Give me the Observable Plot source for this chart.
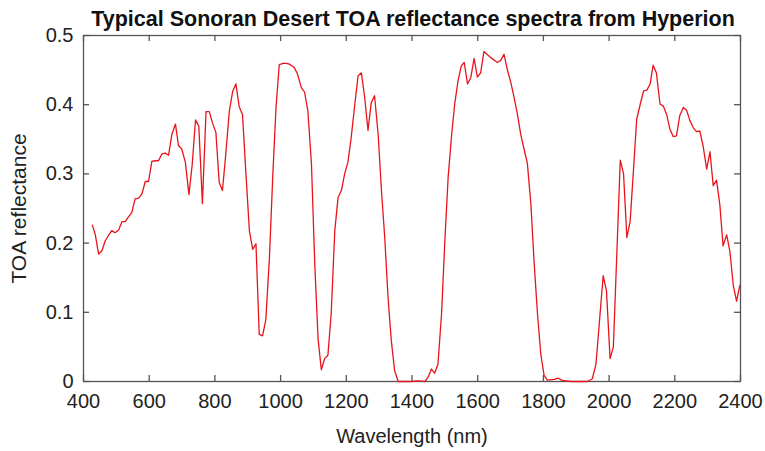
<!DOCTYPE html>
<html>
<head>
<meta charset="utf-8">
<script src="https://cdn.jsdelivr.net/npm/d3@7"></script>
<script src="https://cdn.jsdelivr.net/npm/@observablehq/plot@0.6"></script>
<style>
  html, body { margin: 0; padding: 0; background: #fff; }
  svg { display: block; }
</style>
</head>
<body>
<div id="chart"></div>
<script>
const wavelength = [
  427, 436, 446, 456, 466, 476, 486, 496, 507, 517, 527, 537, 547, 557, 568, 578, 588, 598,
  608, 618, 628, 639, 649, 659, 669, 680, 689, 699, 710, 721, 731, 741, 751, 762, 773, 783,
  793, 803, 813, 823, 833, 844, 854, 864, 874, 884, 894, 905, 915, 925, 935, 945, 955, 966,
  976, 986, 996, 1010, 1025, 1041, 1051, 1063, 1073, 1083, 1094, 1104, 1114, 1124, 1134, 1144,
  1154, 1165, 1175, 1185, 1195, 1205, 1215, 1226, 1236, 1246, 1256, 1266, 1276, 1286, 1297,
  1307, 1317, 1327, 1337, 1347, 1358, 1378, 1398, 1418, 1439, 1449, 1459, 1469, 1479, 1490,
  1500, 1510, 1520, 1530, 1540, 1550, 1559, 1569, 1579, 1589, 1599, 1609, 1619, 1640, 1660,
  1670, 1680, 1691, 1701, 1711, 1721, 1731, 1741, 1751, 1762, 1772, 1782, 1792, 1802, 1812,
  1833, 1845, 1855, 1868, 1883, 1914, 1934, 1949, 1960, 1970, 1982, 1992, 2003, 2013, 2024,
  2034, 2044, 2054, 2064, 2074, 2084, 2095, 2105, 2115, 2125, 2134, 2144, 2155, 2165, 2175,
  2185, 2195, 2205, 2215, 2226, 2236, 2246, 2256, 2266, 2276, 2286, 2297, 2307, 2317, 2327,
  2337, 2347, 2358, 2368, 2378, 2388, 2398
];
const reflectance = [
  0.226, 0.212, 0.184, 0.189, 0.203, 0.211, 0.218, 0.215, 0.219, 0.231, 0.231, 0.238, 0.244, 0.264, 0.265, 0.271, 0.289, 0.289,
  0.318, 0.319, 0.319, 0.329, 0.330, 0.327, 0.357, 0.372, 0.341, 0.336, 0.317, 0.270, 0.314, 0.378, 0.369, 0.257, 0.390, 0.390,
  0.373, 0.360, 0.288, 0.276, 0.328, 0.391, 0.419, 0.430, 0.397, 0.386, 0.304, 0.218, 0.191, 0.199, 0.068, 0.066, 0.089, 0.179,
  0.295, 0.396, 0.458, 0.460, 0.459, 0.454, 0.445, 0.425, 0.418, 0.391, 0.314, 0.170, 0.062, 0.017, 0.033, 0.038,
  0.098, 0.218, 0.266, 0.276, 0.300, 0.317, 0.353, 0.401, 0.442, 0.446, 0.410, 0.363, 0.403, 0.413, 0.357,
  0.276, 0.208, 0.122, 0.059, 0.016, 0.000, 0.000, 0.000, 0.001, 0.000, 0.006, 0.018, 0.012, 0.025, 0.098,
  0.203, 0.295, 0.353, 0.401, 0.434, 0.456, 0.461, 0.430, 0.439, 0.467, 0.440, 0.446, 0.477, 0.468, 0.461,
  0.464, 0.473, 0.449, 0.432, 0.410, 0.386, 0.357, 0.336, 0.316, 0.256, 0.170, 0.098, 0.040, 0.009, 0.002,
  0.003, 0.005, 0.002, 0.001, 0.000, 0.000, 0.000, 0.004, 0.025, 0.083, 0.153, 0.131, 0.033, 0.050, 0.191,
  0.320, 0.300, 0.208, 0.231, 0.304, 0.379, 0.401, 0.420, 0.421, 0.430, 0.457, 0.446, 0.401, 0.398, 0.386,
  0.365, 0.354, 0.355, 0.384, 0.396, 0.392, 0.377, 0.367, 0.361, 0.362, 0.341, 0.307, 0.332, 0.283, 0.291,
  0.256, 0.196, 0.212, 0.187, 0.139, 0.116, 0.139
];
const xTicks = [400, 600, 800, 1000, 1200, 1400, 1600, 1800, 2000, 2200, 2400];
const yTicks = [0, 0.1, 0.2, 0.3, 0.4, 0.5];
const yTickLabels = ["0", "0.1", "0.2", "0.3", "0.4", "0.5"];

const data = wavelength.map((w, i) => ({w, r: reflectance[i]}));

const W = 765, H = 451;
const mL = 83, mR = 25, mT = 35, mB = 70;
const pw = W - mL - mR, ph = H - mT - mB;
const tl = 6;
const axisColor = "#555";
const font = "Liberation Sans, Arial, Helvetica, sans-serif";

const chart = Plot.plot({
  width: W,
  height: H,
  marginLeft: mL,
  marginRight: mR,
  marginTop: mT,
  marginBottom: mB,
  style: {fontFamily: font, background: "#fff", color: "#222"},
  x: {domain: [400, 2400], label: null},
  y: {domain: [0, 0.5], label: null},
  marks: [
    Plot.frame({stroke: axisColor, strokeWidth: 1.3}),
    Plot.tickX(xTicks, {x: d => d, insetTop: ph - tl, stroke: axisColor, strokeWidth: 1.3}),
    Plot.tickX(xTicks, {x: d => d, insetBottom: ph - tl, stroke: axisColor, strokeWidth: 1.3}),
    Plot.tickY(yTicks, {y: d => d, insetRight: pw - tl, stroke: axisColor, strokeWidth: 1.3}),
    Plot.tickY(yTicks, {y: d => d, insetLeft: pw - tl, stroke: axisColor, strokeWidth: 1.3}),
    Plot.axisX({ticks: xTicks, tickSize: 0, tickPadding: 12, fontSize: 20, tickFormat: d => String(d), fill: "#222"}),
    Plot.axisY({ticks: yTicks, tickSize: 0, tickPadding: 10, fontSize: 20, tickFormat: d => yTickLabels[yTicks.indexOf(d)], fill: "#222"}),
    Plot.line(data, {x: "w", y: "r", stroke: "#e8141c", strokeWidth: 1.3}),
    Plot.text(["Typical Sonoran Desert TOA reflectance spectra from Hyperion"], {
      frameAnchor: "top", lineAnchor: "top", textAnchor: "middle", dy: -25, dx: 1,
      fontSize: 21.5, fontWeight: "bold", fill: "#111", text: d => d
    }),
    Plot.text(["Wavelength (nm)"], {
      frameAnchor: "bottom", lineAnchor: "bottom", textAnchor: "middle", dy: 61,
      fontSize: 20, fill: "#222", text: d => d
    }),
    Plot.text(["TOA reflectance"], {
      frameAnchor: "left", textAnchor: "middle", lineAnchor: "bottom", dx: -58, rotate: -90,
      fontSize: 21, fill: "#222", text: d => d
    })
  ]
});
document.getElementById("chart").appendChild(chart);
</script>
</body>
</html>
